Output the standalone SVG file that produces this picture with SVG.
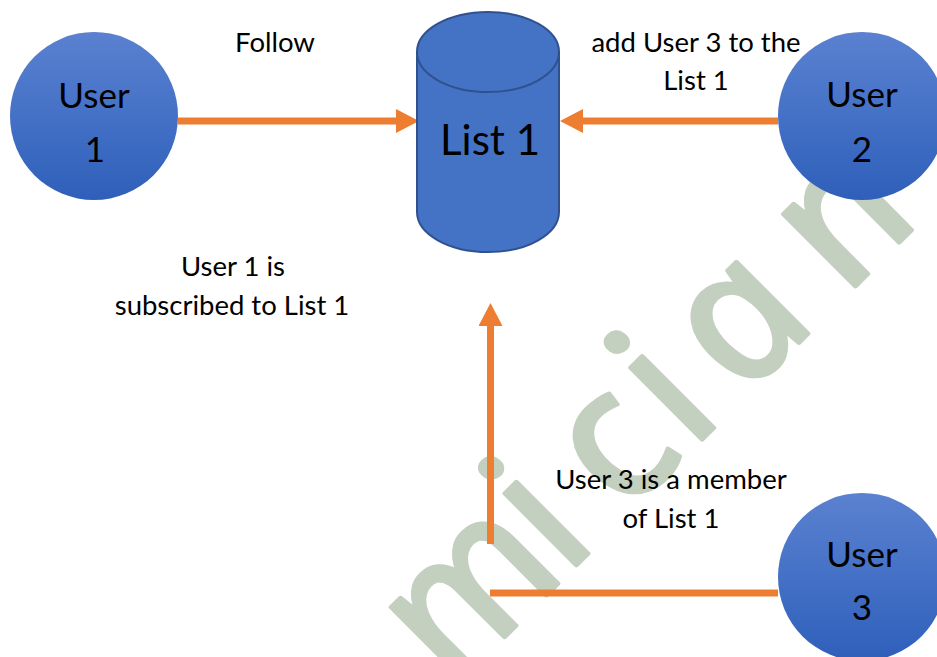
<svg xmlns="http://www.w3.org/2000/svg" width="937" height="657" viewBox="0 0 937 657">
  <defs>
    <linearGradient id="userFill" x1="0" y1="0" x2="0" y2="1">
      <stop offset="0" stop-color="#5b81d0"/>
      <stop offset="0.5" stop-color="#4471c6"/>
      <stop offset="1" stop-color="#2f5fba"/>
    </linearGradient>
    <marker id="arrowHead" markerUnits="userSpaceOnUse" markerWidth="24" markerHeight="26" refX="0" refY="12" orient="auto">
      <path d="M0,0 L23,12 L0,24 Z" fill="#ed7d31"/>
    </marker>
  </defs>
  <style>
    .label { font-family: "Lato", "Liberation Sans", sans-serif; fill: #000; text-anchor: middle; }
    .node-text { font-size: 35px; }
    .note { font-size: 27.5px; }
    .user { fill: url(#userFill); }
    .link { stroke: #ed7d31; stroke-width: 7; fill: none; }
    .mark { font-family: "Noto Sans", "Open Sans", sans-serif; font-style: italic; font-size: 190px; fill: #c3cfbf; stroke: #c3cfbf; stroke-width: 4; stroke-linejoin: round; stroke-linecap: round; text-anchor: middle; }
  </style>

  <rect width="937" height="657" fill="#ffffff"/>

  <!-- watermark lettering behind the diagram -->
  <g id="watermark">
    <text class="mark" transform="translate(590,552) rotate(-45) skewX(12)" x="-102 0 102 178 280 426" y="0">mician</text>
  </g>

  <!-- connectors -->
  <g id="connectors">
    <line class="link" x1="178" y1="121" x2="396" y2="121" marker-end="url(#arrowHead)"/>
    <line class="link" x1="778" y1="121" x2="583" y2="121" marker-end="url(#arrowHead)"/>
    <line class="link" x1="490.5" y1="544" x2="490.5" y2="326" marker-end="url(#arrowHead)"/>
    <line class="link" x1="490" y1="593" x2="778" y2="593"/>
  </g>

  <!-- list store -->
  <g id="list1">
    <path d="M417,52 V212 A71,40 0 0 0 559,212 V52 Z" fill="#4472c4" stroke="#2f528f" stroke-width="2"/>
    <ellipse cx="488" cy="52" rx="71" ry="40" fill="#4472c4" stroke="#2f528f" stroke-width="2"/>
    <text class="label" x="490" y="155" font-size="42">List 1</text>
  </g>

  <g id="user1">
    <circle class="user" cx="94" cy="116" r="84"/>
    <text class="label node-text" x="94" y="108">User</text>
    <text class="label node-text" x="95" y="162">1</text>
  </g>

  <g id="user2">
    <circle class="user" cx="862" cy="116" r="84"/>
    <text class="label node-text" x="862" y="107">User</text>
    <text class="label node-text" x="862" y="162">2</text>
  </g>

  <g id="user3">
    <circle class="user" cx="862" cy="577" r="84"/>
    <text class="label node-text" x="862" y="567">User</text>
    <text class="label node-text" x="862" y="620">3</text>
  </g>

  <!-- connector labels -->
  <g id="labels">
    <text class="label note" x="275" y="52">Follow</text>
    <text class="label note" x="696" y="52">add User 3 to the</text>
    <text class="label note" x="696" y="90">List 1</text>
    <text class="label note" x="233" y="276">User 1 is</text>
    <text class="label note" x="232" y="315">subscribed to List 1</text>
    <text class="label note" x="671" y="489">User 3 is a member</text>
    <text class="label note" x="671" y="528">of List 1</text>
  </g>
</svg>
